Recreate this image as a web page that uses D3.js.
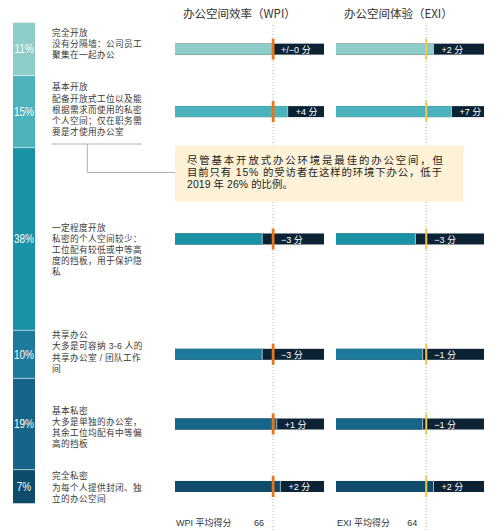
<!DOCTYPE html>
<html><head><meta charset="utf-8">
<script src="https://cdn.jsdelivr.net/npm/d3@7"></script>
<style>
html,body{margin:0;padding:0;background:#fff;}
svg{display:block;}
</style></head>
<body>
<svg id="chart" width="500" height="531"></svg>
<script>
// ---------- data ----------
const categories = ["完全开放","基本开放","一定程度开放","共享办公","基本私密","完全私密"];
const shares = [11, 15, 38, 10, 19, 7];
const descriptions = [
  ["没有分隔墙：公司员工","聚集在一起办公"],
  ["配备开放式工位以及能","根据需求而使用的私密","个人空间；仅在职务需","要是才使用办公室"],
  ["私密的个人空间较少：","工位配有较低或中等高","度的挡板，用于保护隐","私"],
  ["大多是可容纳 3-6 人的","共享办公室 / 团队工作","间"],
  ["大多是单独的办公室，","其余工位均配有中等偏","高的挡板"],
  ["为每个人提供封闭、独","立的办公空间"]
];
const wpiScores = [66, 70, 63, 63, 67, 68];
const exiScores = [66, 71, 61, 63, 63, 66];
const wpiLabels = ["+/−0 分","+4 分","−3 分","−3 分","+1 分","+2 分"];
const exiLabels = ["+2 分","+7 分","−3 分","−1 分","−1 分","+2 分"];
const wpiMean = 66, exiMean = 64;
const headers = ["办公空间效率（WPI）","办公空间体验（EXI）"];
const footers = ["WPI 平均得分","EXI 平均得分"];
const calloutLines = ["尽管基本开放式办公环境是最佳的办公空间，但","目前只有 15% 的受访者在这样的环境下办公，低于","2019 年 26% 的比例。"];

// ---------- layout / style ----------
const colors = ["#8ecdc8","#4cb3bd","#1a92a6","#1e7a9b","#176489","#0f4b6b"];
const dark = "#0c2336";
const textShift = [-5, -2, 11, -2.5, 3.5, 1];
const calloutWidths = [256, 255, 106];
const mixed = "'Liberation Sans','Noto Sans CJK SC',sans-serif";
const cjk = "'Noto Sans CJK SC','Noto Sans',sans-serif";
const sans = "'Liberation Sans',Arial,sans-serif";

const svg = d3.select("#chart");

// stacked share column
const yStack = d3.scaleLinear().domain([0, 100]).range([22.7, 503.3]);
const cum = d3.cumsum(shares);
const segs = shares.map((s, i) => ({s, i, y0: cum[i] - s, y1: cum[i]}));
const mid = d => (yStack(d.y0) + yStack(d.y1)) / 2;

svg.append("g").selectAll("rect").data(segs).join("rect")
  .attr("x", 13).attr("width", 22)
  .attr("y", d => yStack(d.y0)).attr("height", d => yStack(d.y1) - yStack(d.y0))
  .attr("fill", d => colors[d.i]);
svg.append("g").selectAll("line").data(segs.slice(1)).join("line")
  .attr("x1", 13).attr("x2", 35)
  .attr("y1", d => yStack(d.y0)).attr("y2", d => yStack(d.y0))
  .attr("stroke", "#ffffff").attr("stroke-opacity", 0.55).attr("stroke-width", 1);
svg.append("g").selectAll("text").data(segs).join("text")
  .attr("transform", d => `translate(24,${mid(d) + 4.3}) scale(0.8,1)`)
  .attr("text-anchor", "middle").attr("fill", "#fff")
  .attr("font-family", sans).attr("font-size", 12.5)
  .text(d => d.s + "%");

// descriptions
const lineH = 11.2;
segs.forEach(d => {
  const lines = [categories[d.i]].concat(descriptions[d.i]);
  const top = mid(d) + textShift[d.i] - (lines.length - 1) * lineH / 2;
  lines.forEach((ln, k) => {
    svg.append("text").attr("font-family", mixed).attr("font-size", 8.7)
      .attr("letter-spacing", 0.3).attr("fill", "#3a3a3a")
      .attr("x", 52).attr("y", top + k * lineH + 3.1).text(ln);
  });
});

// connector
const connector = d3.line();
svg.append("path").attr("d", connector([[51.7, 144], [141.7, 144]]))
  .attr("stroke", "#b0b0b0").attr("fill", "none");
svg.append("path").attr("d", connector([[87.3, 144], [87.3, 172.5], [176, 172.5]]))
  .attr("stroke", "#b0b0b0").attr("fill", "none");

// panels
const panels = [
  {x: d3.scaleLinear().domain([39, 80]).range([175, 324]), scores: wpiScores, labels: wpiLabels, mean: wpiMean, marker: "#e8741c", mw: 2.8, header: headers[0], footer: footers[0]},
  {x: d3.scaleLinear().domain([39, 80]).range([336, 484]), scores: exiScores, labels: exiLabels, mean: exiMean, marker: "#f3c54d", mw: 2, header: headers[1], footer: footers[1]}
];
const barH = 11;

panels.forEach(p => {
  const g = svg.append("g");
  const [x0, x1] = p.x.range();
  const mx = p.x(p.mean);
  g.append("text").attr("x", x0 + 8).attr("y", 18)
    .attr("font-family", cjk).attr("font-size", 11.5).attr("fill", "#333")
    .text(p.header);
  g.append("line").attr("x1", mx).attr("x2", mx).attr("y1", 25).attr("y2", 531)
    .attr("stroke", "#9a9a9a").attr("stroke-width", 0.8).attr("stroke-dasharray", "1,2");
  g.selectAll("rect.full").data(segs).join("rect").attr("class", "full")
    .attr("x", x0).attr("width", x1 - x0)
    .attr("y", d => mid(d) - barH / 2).attr("height", barH)
    .attr("fill", dark);
  g.selectAll("rect.score").data(segs).join("rect").attr("class", "score")
    .attr("x", x0).attr("width", d => p.x(p.scores[d.i]) - x0)
    .attr("y", d => mid(d) - barH / 2).attr("height", barH)
    .attr("fill", d => colors[d.i]);
  g.selectAll("line.sep").data(segs).join("line").attr("class", "sep")
    .attr("x1", d => p.x(p.scores[d.i])).attr("x2", d => p.x(p.scores[d.i]))
    .attr("y1", d => mid(d) - barH / 2).attr("y2", d => mid(d) + barH / 2)
    .attr("stroke", "#c8d6dc").attr("stroke-width", 0.8);
  g.selectAll("line.mk").data(segs).join("line").attr("class", "mk")
    .attr("x1", mx).attr("x2", mx)
    .attr("y1", d => mid(d) - barH / 2 - 5).attr("y2", d => mid(d) + barH / 2 + 5)
    .attr("stroke", p.marker).attr("stroke-width", p.mw);
  g.selectAll("text.lab").data(segs).join("text").attr("class", "lab")
    .attr("x", d => Math.max(p.x(p.scores[d.i]), mx) + 8)
    .attr("y", d => mid(d) + 3.6)
    .attr("font-family", mixed).attr("font-size", 9).attr("fill", "#fff")
    .text(d => p.labels[d.i]);
  g.append("text").attr("x", x0 + 1).attr("y", 526)
    .attr("font-family", mixed).attr("font-size", 9).attr("fill", "#333")
    .text(p.footer);
  g.append("text").attr("x", mx - 9).attr("y", 526).attr("text-anchor", "end")
    .attr("font-family", mixed).attr("font-size", 9).attr("fill", "#333")
    .text(p.mean);
});

// callout box drawn above dotted lines
svg.append("rect").attr("x", 175).attr("y", 145.5).attr("width", 288.5).attr("height", 56.2)
  .attr("fill", "#fdf2d7");
calloutLines.forEach((ln, k) => {
  svg.append("text").attr("font-family", mixed).attr("font-size", 10.4).attr("fill", "#222")
    .attr("x", 187).attr("y", 164.3 + k * 11.6)
    .attr("textLength", calloutWidths[k]).attr("lengthAdjust", "spacing")
    .text(ln);
});
</script>
</body></html>
